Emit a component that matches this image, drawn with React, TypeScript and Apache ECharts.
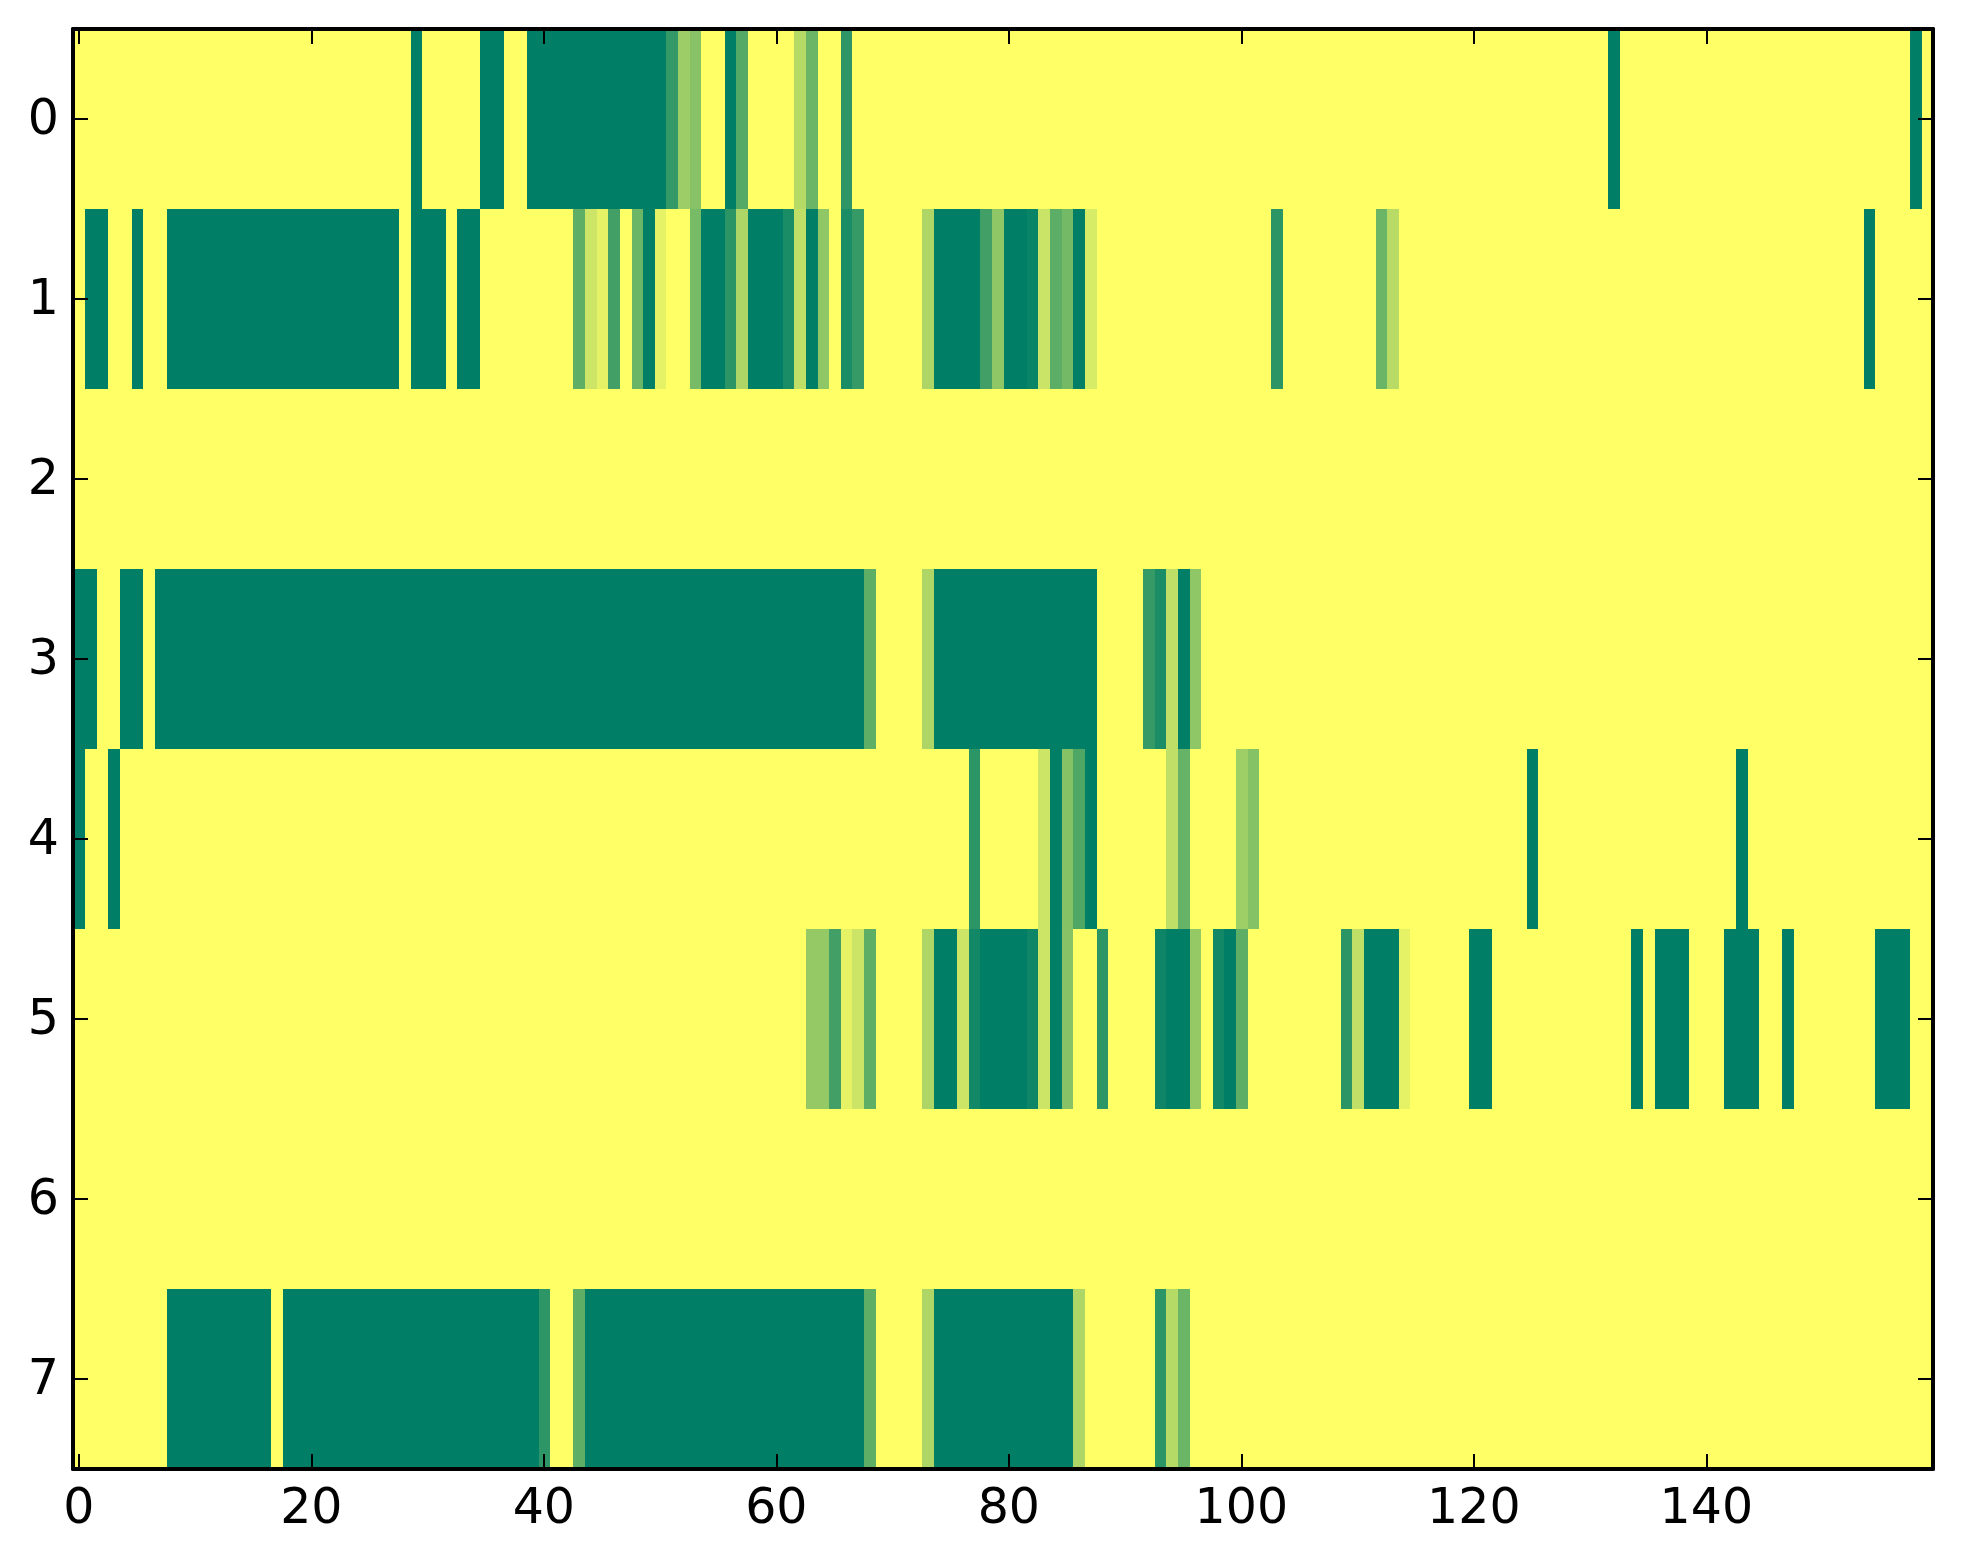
import React, { useEffect, useRef } from "react";
import * as echarts from "echarts";

// Each row lists runs of equal cells: [first column, last column, value]. Cells not listed are 0.
const columns = Array.from({ length: 160 }, (_, i) => String(i));
const rowLabels = ["0", "1", "2", "3", "4", "5", "6", "7"];

const row0 = [[29,29,1],[35,36,1],[39,50,1],[51,51,.8],[52,52,.39],[53,53,.47],[56,56,1],[57,57,.67],[62,62,.29],[63,63,.58],[66,66,.82],[132,132,1],[158,158,1]];
const row1 = [[1,2,1],[5,5,1],[8,27,1],[29,31,1],[33,34,1],[43,43,.63],[44,44,.2],[45,45,.1],[46,46,.74],[48,48,.58],[49,49,1],[50,50,.1],[53,53,.53],[54,55,1],[56,56,.83],[57,57,.32],[58,60,1],[61,61,.9],[62,62,.25],[63,63,1],[64,64,.44],[66,66,.9],[67,67,.79],[73,73,.32],[74,77,1],[78,78,.74],[79,79,.44],[80,81,1],[82,82,.96],[83,83,.21],[84,84,.64],[85,85,.55],[86,86,1],[87,87,.16],[103,103,.83],[112,112,.58],[113,113,.28],[154,154,1]];
const row2: number[][] = [];
const row3 = [[0,1,1],[4,5,1],[7,67,1],[68,68,.63],[73,73,.32],[74,87,1],[92,92,.79],[93,93,.9],[94,94,.25],[95,95,1],[96,96,.44]];
const row4 = [[0,0,1],[3,3,1],[77,77,.83],[83,83,.2],[84,84,1],[85,85,.48],[86,86,.69],[87,87,1],[94,94,.25],[95,95,.6],[100,100,.38],[101,101,.48],[125,125,1],[143,143,1]];
const row5 = [[63,64,.42],[65,65,.74],[66,66,.1],[67,67,.2],[68,68,.63],[73,73,.32],[74,75,1],[76,76,.2],[77,77,.93],[78,81,1],[82,82,.95],[83,83,.2],[84,84,1],[85,85,.47],[88,88,.83],[93,93,.95],[94,95,1],[96,96,.42],[98,98,.93],[99,99,1],[100,100,.63],[109,109,.83],[110,110,.25],[111,113,1],[114,114,.1],[120,121,1],[134,134,1],[136,138,1],[142,144,1],[147,147,1],[155,157,1]];
const row6: number[][] = [];
const row7 = [[8,16,1],[18,39,1],[40,40,.82],[43,43,.63],[44,67,1],[68,68,.63],[73,73,.32],[74,85,1],[86,86,.32],[93,93,.83],[94,94,.29],[95,95,.58]];
const rows = [row0, row1, row2, row3, row4, row5, row6, row7];

const xTickStep = 19; // a tick every 20 columns

// One item per stretch of equal neighbouring cells: [first column, row, last column, value].
function buildStretches() {
  const out: number[][] = [];
  rows.forEach((runs, y) => {
    const line = new Array(columns.length).fill(0);
    runs.forEach(([a, b, v]) => {
      for (let c = a; c <= b; c++) line[c] = v;
    });
    let start = 0;
    for (let c = 1; c <= line.length; c++) {
      if (c === line.length || line[c] !== line[start]) {
        out.push([start, y, c - 1, line[start]]);
        start = c;
      }
    }
  });
  return out;
}

function renderStretch(params: any, api: any) {
  const first = api.coord([api.value(0), api.value(1)]);
  const last = api.coord([api.value(2), api.value(1)]);
  const band = api.size([1, 1]);
  const x0 = Math.floor(first[0] - band[0] / 2) + 1;
  const x1 = Math.floor(last[0] + band[0] / 2) + 1;
  const y0 = Math.round(first[1] - band[1] / 2);
  const y1 = Math.round(first[1] + band[1] / 2);
  return {
    type: "rect",
    shape: { x: x0, y: y0, width: x1 - x0, height: y1 - y0 },
    style: { fill: api.visual("color") },
  };
}

export default function App() {
  const ref = useRef<HTMLDivElement>(null);
  useEffect(() => {
    document.body.style.margin = "0";
    const chart = echarts.init(ref.current!, null, { renderer: "svg" });
    const line = { show: true, onZero: false, lineStyle: { color: "#000", width: 4 } };
    const tick = (interval: number) => ({
      show: true,
      inside: true,
      length: 15,
      alignWithLabel: true,
      interval,
      lineStyle: { color: "#000", width: 2 },
    });
    const font = { color: "#000", fontFamily: "DejaVu Sans", fontSize: 49 };
    chart.setOption({
      animation: false,
      backgroundColor: "#fff",
      grid: { left: 73, top: 29, width: 1860, height: 1440, containLabel: false },
      visualMap: {
        show: false,
        type: "continuous",
        min: 0,
        max: 1,
        dimension: 3,
        seriesIndex: 0,
        inRange: { color: ["#FFFF66", "#007F66"] },
      },
      xAxis: [
        {
          type: "category", position: "bottom", data: columns, boundaryGap: true, z: 10,
          axisLine: line, axisTick: tick(xTickStep), splitLine: { show: false },
          axisLabel: { ...font, interval: xTickStep, margin: 13 },
        },
        {
          type: "category", position: "top", data: columns, boundaryGap: true, z: 10,
          axisLine: line, axisTick: tick(xTickStep), splitLine: { show: false },
          axisLabel: { show: false },
        },
      ],
      yAxis: [
        {
          type: "category", position: "left", data: rowLabels, inverse: true, boundaryGap: true, z: 10,
          axisLine: line, axisTick: tick(0), splitLine: { show: false },
          axisLabel: { ...font, interval: 0, margin: 14, verticalAlign: "bottom", lineHeight: 3 },
        },
        {
          type: "category", position: "right", data: rowLabels, inverse: true, boundaryGap: true, z: 10,
          axisLine: line, axisTick: tick(0), splitLine: { show: false },
          axisLabel: { show: false },
        },
      ],
      series: [
        {
          type: "custom",
          xAxisIndex: 0,
          yAxisIndex: 0,
          renderItem: renderStretch,
          encode: { x: 0, y: 1 },
          data: buildStretches(),
          clip: true,
          silent: true,
        },
      ],
    });
    return () => chart.dispose();
  }, []);
  return (
    <div
      ref={ref}
      style={{ position: "absolute", left: 0, top: 0, width: 1963, height: 1564 }}
    />
  );
}
